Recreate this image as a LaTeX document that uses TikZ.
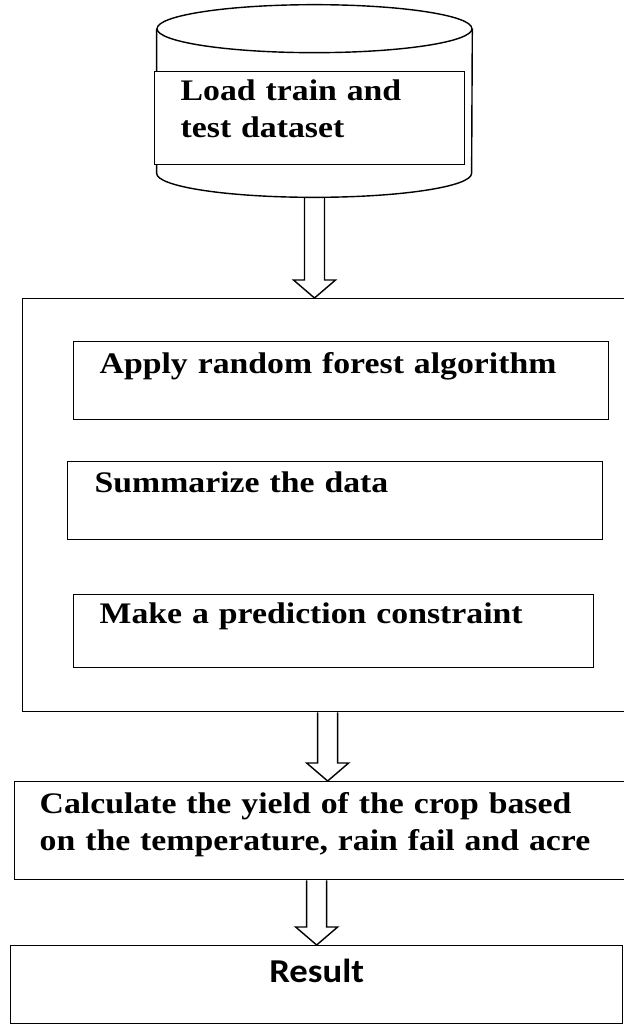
\documentclass[tikz,border=0pt]{standalone}
\usepackage{fontspec}
\setmainfont{Liberation Serif}[FakeStretch=1.13]
\newfontfamily\resultfont{Carlito}[FakeStretch=1.1]
\usetikzlibrary{arrows.meta,positioning,shapes.geometric,calc}

\begin{document}
\begin{tikzpicture}[
    x=0.02cm, y=-0.02cm,
    box/.style={draw,line width=0.8pt,rectangle,anchor=north west,align=left,inner ysep=0pt,
      font=\bfseries\fontsize{17}{21}\selectfont},
    cyl/.style={minimum width=6.3cm,minimum height=3.84cm,inner sep=0pt},
    rim/.style={line width=0.8pt},
    fatarrow/.style={draw,line width=0.8pt,to path={
      let \p1=(\tikztostart), \p2=(\tikztotarget) in
      (\x1-0.2cm,\y1) -- (\x1-0.2cm,\y2+0.36cm) -- (\x1-0.42cm,\y2+0.36cm) -- (\x1,\y2)
      -- (\x1+0.42cm,\y2+0.36cm) -- (\x1+0.2cm,\y2+0.36cm) -- (\x1+0.2cm,\y1)}}
]
\useasboundingbox (0,0) rectangle (624,1025);
\node[cyl] (db) at (314.5,101) {};
\draw[rim] ([yshift=-0.48cm]db.north) ellipse [x radius=3.15cm, y radius=0.48cm];
\draw[rim] ([yshift=-0.48cm]db.north west) -- ([yshift=0.48cm]db.south west)
  arc[start angle=180, end angle=360, x radius=3.15cm, y radius=0.48cm]
  -- ([yshift=-0.48cm]db.north east);
\node[box,fill=white,text width=5.16cm,inner xsep=0.52cm,text height=0.58cm,text depth=1.28cm] (load) at (154,71) {Load train and\\test dataset};
\node[draw,line width=0.8pt,anchor=north west,minimum width=12.36cm,minimum height=8.26cm,inner sep=0pt] (outer) at (22,298) {};
\node[box,text width=9.66cm,inner xsep=0.52cm,text height=0.64cm,text depth=0.92cm] (apply) at (73,341) {Apply random forest algorithm};
\node[box,text width=9.62cm,inner xsep=0.54cm,text height=0.62cm,text depth=0.94cm] (summ) at (67,461) {Summarize the data};
\node[box,text width=9.36cm,inner xsep=0.52cm,text height=0.58cm,text depth=0.88cm] (pred) at (73,594) {Make a prediction constraint};
\node[box,text width=11.52cm,inner xsep=0.5cm,text height=0.64cm,text depth=1.32cm] (calc) at (14,781) {Calculate the yield of the crop based\\on the temperature, rain fail and acre};
\node[box,align=center,text width=11.64cm,inner xsep=0.3cm,text height=0.74cm,text depth=0.82cm,
  font=\resultfont\bfseries\fontsize{19}{23}\selectfont] (res) at (10,945) {Result};
\draw[fatarrow] (db.south) to (db.south |- outer.north);
\draw[fatarrow] (outer.south -| calc.north) to (calc.north);
\draw[fatarrow] (calc.south -| res.north) to (res.north);
\end{tikzpicture}
\end{document}
